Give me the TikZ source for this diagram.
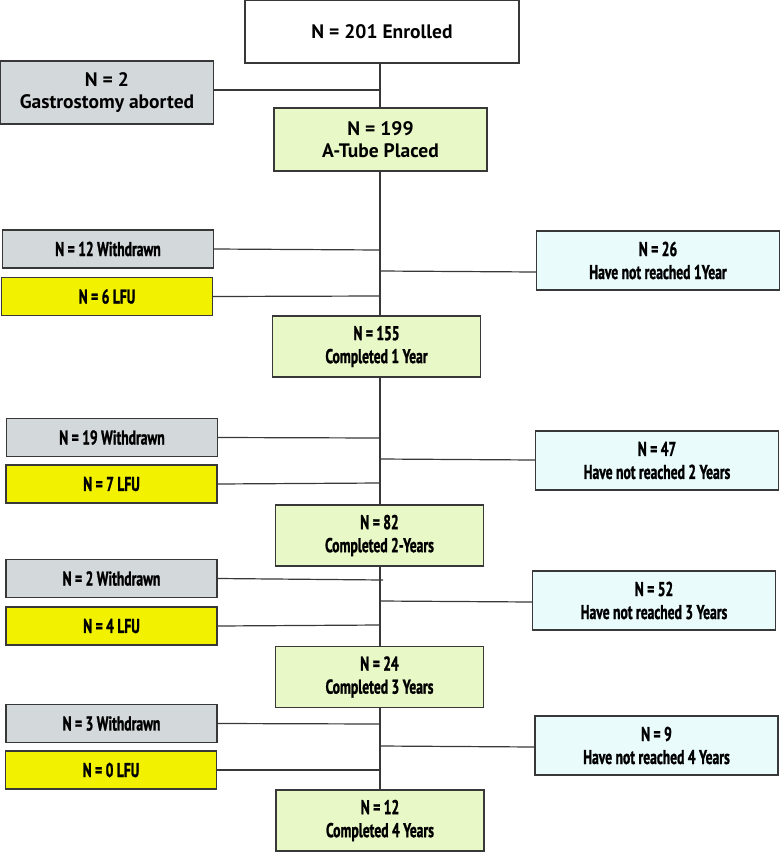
\documentclass[tikz,border=0pt]{standalone}
\usepackage{fontspec}
\setmainfont{PT Sans}
\newfontfamily\condfont[FakeStretch=0.68,FakeBold=1.2]{PT Sans}
\definecolor{boxgray}{HTML}{D3D8DA}
\definecolor{boxyellow}{HTML}{F2F200}
\definecolor{boxgreen}{HTML}{E8F8C6}
\definecolor{boxblue}{HTML}{EAFBFC}
\definecolor{edge}{HTML}{383838}
\tikzset{
  base/.style={draw=edge, line width=1.3pt, inner sep=0pt, align=center, font=\bfseries\fontsize{19.5}{22}\selectfont},
  cbase/.style={base, font=\condfont\bfseries\fontsize{20}{23}\selectfont},
  whitebox/.style={base, fill=white, minimum width=274pt, minimum height=63pt},
  graytop/.style={base, fill=boxgray, minimum width=213pt, minimum height=63pt},
  greentop/.style={base, fill=boxgreen, minimum width=213pt, minimum height=63pt},
  wdbox/.style={cbase, fill=boxgray, minimum width=211pt, minimum height=38pt},
  lfubox/.style={cbase, fill=boxyellow, minimum width=211pt, minimum height=38pt},
  compbox/.style={cbase, fill=boxgreen, minimum width=208pt, minimum height=61pt},
  nrbox/.style={cbase, fill=boxblue, minimum width=243pt, minimum height=59pt},
  conn/.style={draw=edge, line width=1.2pt}
}
\begin{document}
\begin{tikzpicture}[x=1pt,y=-1pt]
\useasboundingbox (0,0) rectangle (780,852);
% top
\node[whitebox] (enr) at (382,31.5) {N = 201 Enrolled};
\node[graytop] (gas) at (107,92.5) {N = 2\\Gastrostomy aborted};
\node[greentop] (atb) at (380.5,139.5) {N = 199\\A-Tube Placed};
% year 1
\node[wdbox] (w1) at (108,249) {N = 12 Withdrawn};
\node[lfubox] (l1) at (107,296.5) {N = 6 LFU};
\node[nrbox] (r1) at (658,260.5) {N = 26\\Have not reached 1Year};
\node[compbox] (c1) at (376.5,346.5) {N = 155\\Completed 1 Year};
% year 2
\node[wdbox] (w2) at (112,437.5) {N = 19 Withdrawn};
\node[lfubox] (l2) at (111.5,484) {N = 7 LFU};
\node[nrbox] (r2) at (657,460.5) {N = 47\\Have not reached 2 Years};
\node[compbox] (c2) at (379.5,535.5) {N = 82\\Completed 2-Years};
% year 3
\node[wdbox] (w3) at (111.5,578.5) {N = 2 Withdrawn};
\node[lfubox] (l3) at (111.5,626) {N = 4 LFU};
\node[nrbox] (r3) at (654,600.5) {N = 52\\Have not reached 3 Years};
\node[compbox] (c3) at (379.5,677) {N = 24\\Completed 3 Years};
% year 4
\node[wdbox] (w4) at (111.5,723.5) {N = 3 Withdrawn};
\node[lfubox] (l4) at (111,770) {N = 0 LFU};
\node[nrbox] (r4) at (656.5,745.5) {N = 9\\Have not reached 4 Years};
\node[compbox] (c4) at (380,820.5) {N = 12\\Completed 4 Years};
% junction coordinates on trunk
\coordinate (jg) at (380,90);
\coordinate (jw1) at (380,250);
\coordinate (jr1) at (380,271);
\coordinate (jl1) at (380,296);
\coordinate (jw2) at (380,438);
\coordinate (jr2) at (380,459);
\coordinate (jl2) at (380,483);
\coordinate (jw3) at (383,580);
\coordinate (jr3) at (380,601);
\coordinate (jl3) at (380,625);
\coordinate (jw4) at (380,724);
\coordinate (jr4) at (380,746);
\coordinate (jl4) at (380,770);
% trunk
\draw[conn] (enr.south -| jg) -- (atb.north -| jg);
\draw[conn] (atb.south -| jg) -- (c1.north -| jg);
\draw[conn] (c1.south -| jg) -- (c2.north -| jg);
\draw[conn] (c2.south -| jg) -- (c3.north -| jg);
\draw[conn] (c3.south -| jg) -- (c4.north -| jg);
% side connectors
\draw[conn] (gas.east |- jg) -- (jg);
\draw[conn] (w1.east) -- (jw1);
\draw[conn] (l1.east) -- (jl1);
\draw[conn] (jr1) -- (r1.west |- 0,272);
\draw[conn] (w2.east) -- (jw2);
\draw[conn] (l2.east) -- (jl2);
\draw[conn] (jr2) -- (r2.west |- 0,460);
\draw[conn] (w3.east) -- (jw3);
\draw[conn] (l3.east) -- (jl3);
\draw[conn] (jr3) -- (r3.west |- 0,602);
\draw[conn] (w4.east) -- (jw4);
\draw[conn] (l4.east) -- (jl4);
\draw[conn] (jr4) -- (r4.west |- 0,747);
\end{tikzpicture}
\end{document}
